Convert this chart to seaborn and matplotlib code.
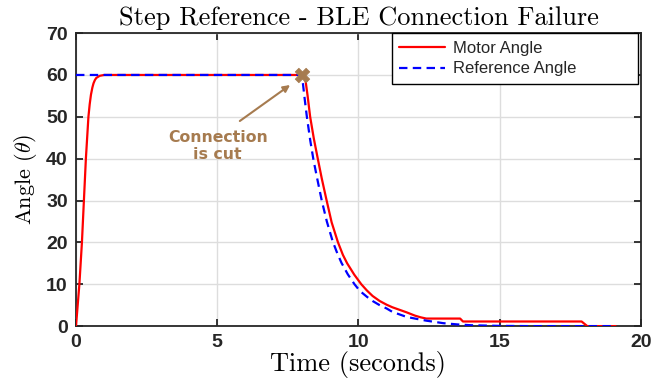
import numpy as np
import pandas as pd
import matplotlib
matplotlib.use("Agg")
import matplotlib.pyplot as plt
import seaborn as sns

# ---- data ----
motor_t = [0.0, 0.06, 0.12, 0.165, 0.21, 0.245, 0.28, 0.315, 0.35, 0.395, 0.44,
           0.485, 0.53, 0.58, 0.62, 0.67, 0.72, 0.84, 1.0,
           8.09, 8.13, 8.2, 8.29, 8.42, 8.56, 8.70, 8.86, 9.05, 9.27, 9.45, 9.6,
           9.85, 10.1, 10.3, 10.5, 10.75, 11.0, 11.2, 11.45, 11.7, 12.0, 12.2,
           12.4, 13.6, 13.7, 17.9, 18.1, 19.1]
motor_a = [0.0, 5.0, 10.0, 15.0, 20.0, 25.0, 30.0, 35.0, 40.0, 45.0, 50.0,
           53.0, 55.3, 57.0, 58.0, 58.8, 59.3, 59.8, 60.0,
           60.0, 58.5, 55.0, 50.0, 44.8, 40.0, 35.3, 30.4, 24.8, 20.1, 17.0, 15.0,
           12.3, 10.0, 8.5, 7.2, 6.0, 5.1, 4.5, 3.9, 3.3, 2.5, 2.1,
           1.8, 1.8, 1.1, 1.1, 0.0, 0.0]

ref_t = [0.0, 8.0, 8.05, 8.11, 8.17, 8.29, 8.41, 8.55, 8.70, 8.88, 9.09, 9.25,
         9.4, 9.62, 9.86, 10.05, 10.3, 10.5, 10.75, 11.0, 11.2, 11.45, 11.7,
         12.0, 12.4, 13.0, 13.5, 14.0, 15.0, 16.0, 19.0]
ref_a = [60.0, 60.0, 57.0, 53.5, 50.2, 44.5, 39.6, 34.9, 30.0, 25.0, 20.2, 17.4,
         15.1, 12.4, 10.0, 8.4, 7.0, 6.0, 5.0, 4.2, 3.4, 2.8, 2.2,
         1.8, 1.3, 0.7, 0.4, 0.2, 0.05, 0.0, 0.0]

cut_t = [8.0]
cut_a = [60.0]

x_ticks = [0, 5, 10, 15, 20]
y_ticks = [0, 10, 20, 30, 40, 50, 60, 70]

motor_df = pd.DataFrame({"Time": motor_t, "Angle": motor_a})
ref_df = pd.DataFrame({"Time": ref_t, "Angle": ref_a})
cut_df = pd.DataFrame({"Time": cut_t, "Angle": cut_a})

sns.set_theme(style="whitegrid")
plt.rcParams["axes.formatter.use_mathtext"] = True
plt.rcParams["mathtext.fontset"] = "cm"

fig = plt.figure(figsize=(6.54, 3.85), dpi=100)
ax = fig.add_axes([0.1162, 0.153, 0.8638, 0.761])

brown = "#a67b4f"

sns.lineplot(data=motor_df, x="Time", y="Angle", ax=ax, color="#ff0000",
             linewidth=1.6, estimator=None, sort=False, label="Motor Angle", zorder=3)
sns.lineplot(data=ref_df, x="Time", y="Angle", ax=ax, color="#0000ff",
             linewidth=1.6, estimator=None, sort=False, label="Reference Angle",
             zorder=4)
ax.lines[1].set_dashes([3.8, 2.4])
sns.scatterplot(data=cut_df, x="Time", y="Angle", ax=ax, marker="X", s=110,
                color=brown, edgecolor=brown, linewidth=0.5, zorder=5, legend=False)

ax.annotate("", xy=(7.58, 57.6), xytext=(5.8, 49.0),
            arrowprops=dict(arrowstyle="-|>", color=brown, lw=1.5,
                            mutation_scale=10, shrinkA=0, shrinkB=0))
ax.text(5.02, 43.0, "Connection\nis cut", ha="center", va="center",
        fontsize=11.3, fontweight="bold", family="DejaVu Sans", color=brown,
        linespacing=1.15)

ax.set_xlim(0, 20)
ax.set_ylim(0, 70)
ax.set_xticks(x_ticks)
ax.set_yticks(y_ticks)
ax.set_xticklabels([str(v) for v in x_ticks])
ax.set_yticklabels([str(v) for v in y_ticks])
for lab in ax.get_xticklabels() + ax.get_yticklabels():
    lab.set_fontfamily("Liberation Sans")
    lab.set_fontweight("bold")
    lab.set_fontsize(14)
    lab.set_color("#262626")

ax.grid(True, color="#dddddd", linewidth=1.0)
for s in ax.spines.values():
    s.set_visible(True)
    s.set_color("#262626")
    s.set_linewidth(1.3)
ax.tick_params(direction="in", length=5, width=1.3, color="#262626",
               top=True, right=True, bottom=True, left=True, pad=6)

ax.set_title("Step Reference - BLE Connection Failure", family="cmr10",
             fontsize=19, pad=6, color="black")
ax.set_xlabel("Time (seconds)", family="cmr10", fontsize=19, labelpad=0, color="black")
ax.set_ylabel(r"Angle ($\theta$)", family="cmr10", fontsize=16, labelpad=5, color="black")

leg = ax.legend(loc="upper right", bbox_to_anchor=(0.559, 0.0, 0.436, 1.0),
                mode="expand", frameon=True, fancybox=False,
                borderaxespad=0.0, handlelength=2.75, labelspacing=0.35,
                handletextpad=0.5, borderpad=0.45,
                prop={"family": "Liberation Sans", "size": 12})
leg.get_frame().set_edgecolor("black")
leg.get_frame().set_linewidth(1.0)
leg.get_frame().set_alpha(1.0)

fig.savefig("out.png", dpi=100)
